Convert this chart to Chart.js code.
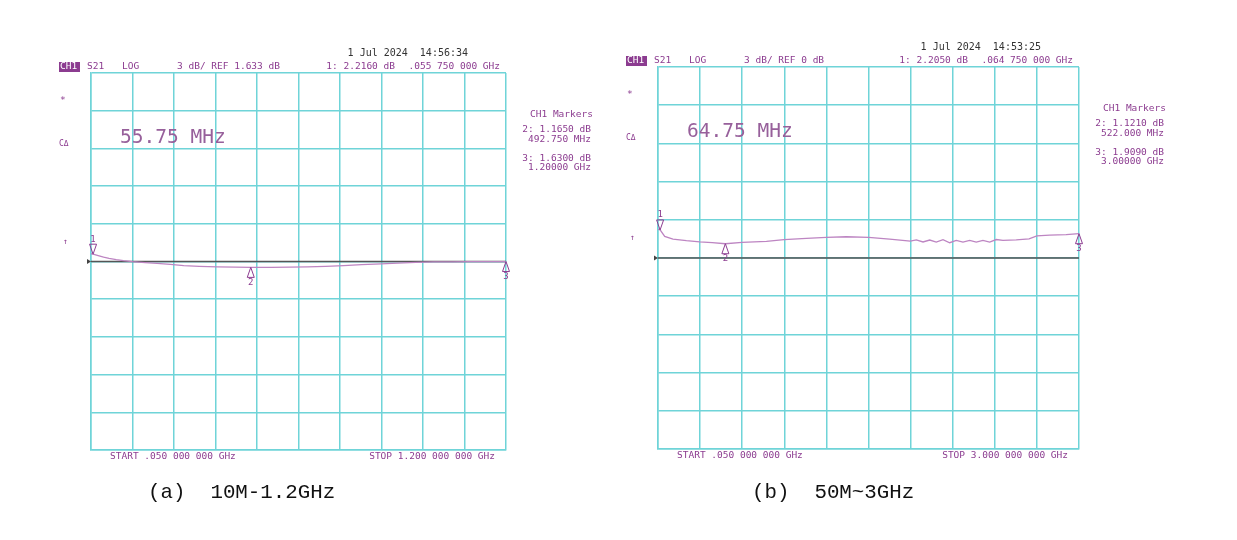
<!DOCTYPE html>
<html>
<head>
<meta charset="utf-8">
<script src="https://cdn.jsdelivr.net/npm/chart.js@4"></script>
<style>
  html, body { margin: 0; padding: 0; background: #fff; }
  #wrap { position: relative; width: 1237px; height: 540px; overflow: hidden; }
  canvas { position: absolute; top: 0; }
  .cap { position: absolute; top: 481px; font: 20.8px "Liberation Mono", monospace; color: #111; white-space: pre; }
</style>
</head>
<body>
<div id="wrap">
  <canvas id="chartA" width="618" height="540" style="left:0"></canvas>
  <canvas id="chartB" width="619" height="540" style="left:618px"></canvas>
  <div class="cap" style="left:148px">(a)  10M-1.2GHz</div>
  <div class="cap" style="left:752px">(b)  50M~3GHz</div>
</div>
<script>
// (a) 10M-1.2GHz : S21, 3 dB/div, REF 1.633 dB
const freqA = [0.05, 0.05575, 0.07, 0.085, 0.1, 0.12, 0.14, 0.165, 0.2, 0.233, 0.27, 0.307, 0.35, 0.4, 0.45, 0.49275,
               0.55, 0.6, 0.65, 0.7, 0.75, 0.8, 0.854, 0.9, 0.95, 1.0, 1.05, 1.1, 1.15, 1.2];
const s21A  = [2.25, 2.216, 2.1, 1.98, 1.88, 1.78, 1.7, 1.62, 1.55, 1.48, 1.4, 1.31, 1.25, 1.21, 1.18, 1.165,
               1.17, 1.18, 1.2, 1.24, 1.3, 1.38, 1.45, 1.5, 1.57, 1.6, 1.6, 1.62, 1.62, 1.63];
const markerFreqA = [0.05575, 0.49275, 1.2];
const markerValA  = [2.216, 1.165, 1.63];

// (b) 50M~3GHz : S21, 3 dB/div, REF 0 dB
const freqB = [0.05, 0.06475, 0.097, 0.155, 0.249, 0.342, 0.43, 0.522, 0.639, 0.81, 0.933, 1.09, 1.23, 1.37, 1.526,
               1.673, 1.818, 1.86, 1.907, 1.954, 2.0, 2.047, 2.094, 2.14, 2.187, 2.234, 2.28, 2.327, 2.374, 2.42,
               2.467, 2.56, 2.65, 2.705, 2.794, 2.91, 3.0];
const s21B  = [2.25, 2.205, 1.7, 1.49, 1.36, 1.26, 1.2, 1.121, 1.23, 1.3, 1.44, 1.54, 1.62, 1.67, 1.62,
               1.49, 1.33, 1.42, 1.26, 1.41, 1.25, 1.44, 1.2, 1.38, 1.25, 1.38, 1.25, 1.38, 1.25, 1.45,
               1.38, 1.42, 1.5, 1.74, 1.8, 1.84, 1.909];
const markerFreqB = [0.06475, 0.522, 3.0];
const markerValB  = [2.205, 1.121, 1.909];

const GRID = '#6fd4d8';
const TRACE = '#bd85c2';
const PURPLE = '#8c3c90';
const MONO = '"DejaVu Sans Mono", monospace';

function divTicks(lo, hi) {
  const t = [];
  for (let i = 0; i <= 10; i++) t.push({ value: lo + (hi - lo) * i / 10 });
  return t;
}

function makePanel(id, p) {
  const ymin = p.ref - 15, ymax = p.ref + 15;

  const vna = {
    id: 'vna',
    afterDatasetsDraw(chart) {
      const { ctx, chartArea: a, scales: { x, y } } = chart;
      ctx.save();
      ctx.textBaseline = 'middle';

      // ref arrow
      const ry = y.getPixelForValue(p.ref);
      ctx.fillStyle = '#444';
      ctx.beginPath();
      ctx.moveTo(a.left - 4, ry - 2.5); ctx.lineTo(a.left - 4, ry + 2.5); ctx.lineTo(a.left, ry);
      ctx.closePath(); ctx.fill();

      // markers
      ctx.strokeStyle = PURPLE; ctx.lineWidth = 1;
      ctx.fillStyle = PURPLE; ctx.font = '9px ' + MONO; ctx.textAlign = 'center';
      p.mf.forEach((f, i) => {
        const px = x.getPixelForValue(f), py = y.getPixelForValue(p.mv[i]);
        const d = i === 0 ? -1 : 1;
        ctx.beginPath();
        ctx.moveTo(px, py); ctx.lineTo(px - 3.5, py + d * 10); ctx.lineTo(px + 3.5, py + d * 10);
        ctx.closePath(); ctx.stroke();
        ctx.fillText(String(i + 1), px, py + d * 15);
      });

      // header
      ctx.font = '10px ' + MONO; ctx.fillStyle = '#333'; ctx.textAlign = 'right';
      ctx.fillText(p.date, a.right - 38, a.top - 20);
      ctx.fillStyle = PURPLE;
      ctx.fillRect(a.left - 32, a.top - 11, 21, 10);
      ctx.font = '9.5px ' + MONO; ctx.textAlign = 'left';
      ctx.fillStyle = '#fff';
      ctx.fillText('CH1', a.left - 31, a.top - 6);
      ctx.fillStyle = PURPLE;
      ctx.fillText('S21', a.left - 4, a.top - 6);
      ctx.fillText('LOG', a.left + 31, a.top - 6);
      ctx.fillText(p.scaleText, a.left + 86, a.top - 6);
      ctx.textAlign = 'right';
      ctx.fillText(p.m1Text, a.right - 111, a.top - 6);
      ctx.fillText(p.m1Freq, a.right - 6, a.top - 6);

      // left side symbols
      ctx.textAlign = 'left';
      ctx.fillText('*', a.left - 31, a.top + 28);
      ctx.font = '8px ' + MONO;
      ctx.fillText('C\u0394', a.left - 32, a.top + 71);
      ctx.fillText('\u2191', a.left - 28, ry - 20);

      // marker table
      ctx.font = '9.5px ' + MONO;
      ctx.fillText('CH1 Markers', a.right + 24, a.top + 42);
      ctx.textAlign = 'right';
      p.table.forEach((t, i) => {
        ctx.fillText(t, a.right + 85, a.top + 57 + i * 9.5 + (i >= 2 ? 9.5 : 0));
      });

      // start / stop
      ctx.textAlign = 'left';
      ctx.fillText(p.startText, a.left + 19, a.bottom + 7);
      ctx.textAlign = 'right';
      ctx.fillText(p.stopText, a.right - 11, a.bottom + 7);

      // big marker frequency
      ctx.textAlign = 'left';
      ctx.font = '19.5px ' + MONO;
      ctx.fillStyle = '#97609b';
      ctx.fillText(p.bigText, a.left + 29, a.top + 65);
      ctx.restore();
    }
  };

  return new Chart(document.getElementById(id), {
    type: 'line',
    data: {
      datasets: [
        {
          data: p.freq.map((f, i) => ({ x: f, y: p.vals[i] })),
          borderColor: TRACE, borderWidth: 1.3, pointRadius: 0, tension: 0
        },
        {
          data: [{ x: p.start, y: p.ref }, { x: p.stop, y: p.ref }],
          borderColor: '#555', borderWidth: 1.5, pointRadius: 0
        }
      ]
    },
    options: {
      responsive: false,
      animation: false,
      layout: { padding: p.pad },
      plugins: { legend: { display: false }, tooltip: { enabled: false } },
      scales: {
        x: {
          type: 'linear', min: p.start, max: p.stop,
          afterBuildTicks: ax => { ax.ticks = divTicks(p.start, p.stop); },
          ticks: { display: false },
          grid: { color: GRID, lineWidth: 1.5, drawTicks: false },
          border: { color: GRID, width: 1.5 }
        },
        y: {
          min: ymin, max: ymax,
          afterBuildTicks: ax => { ax.ticks = divTicks(ymin, ymax); },
          ticks: { display: false },
          grid: { color: GRID, lineWidth: 1.5, drawTicks: false },
          border: { color: GRID, width: 1.5 }
        }
      }
    },
    plugins: [vna]
  });
}

makePanel('chartA', {
  freq: freqA, vals: s21A, mf: markerFreqA, mv: markerValA,
  start: 0.05, stop: 1.2, ref: 1.633,
  pad: { left: 91, right: 112, top: 73, bottom: 90 },
  date: '1 Jul 2024  14:56:34',
  scaleText: '3 dB/ REF 1.633 dB',
  m1Text: '1: 2.2160 dB', m1Freq: '.055 750 000 GHz',
  table: ['2: 1.1650 dB', '492.750 MHz', '3: 1.6300 dB', '1.20000 GHz'],
  startText: 'START .050 000 000 GHz', stopText: 'STOP 1.200 000 000 GHz',
  bigText: '55.75 MHz'
});

makePanel('chartB', {
  freq: freqB, vals: s21B, mf: markerFreqB, mv: markerValB,
  start: 0.05, stop: 3.0, ref: 0,
  pad: { left: 40, right: 158, top: 67, bottom: 91 },
  date: '1 Jul 2024  14:53:25',
  scaleText: '3 dB/ REF 0 dB',
  m1Text: '1: 2.2050 dB', m1Freq: '.064 750 000 GHz',
  table: ['2: 1.1210 dB', '522.000 MHz', '3: 1.9090 dB', '3.00000 GHz'],
  startText: 'START .050 000 000 GHz', stopText: 'STOP 3.000 000 000 GHz',
  bigText: '64.75 MHz'
});
</script>
</body>
</html>
